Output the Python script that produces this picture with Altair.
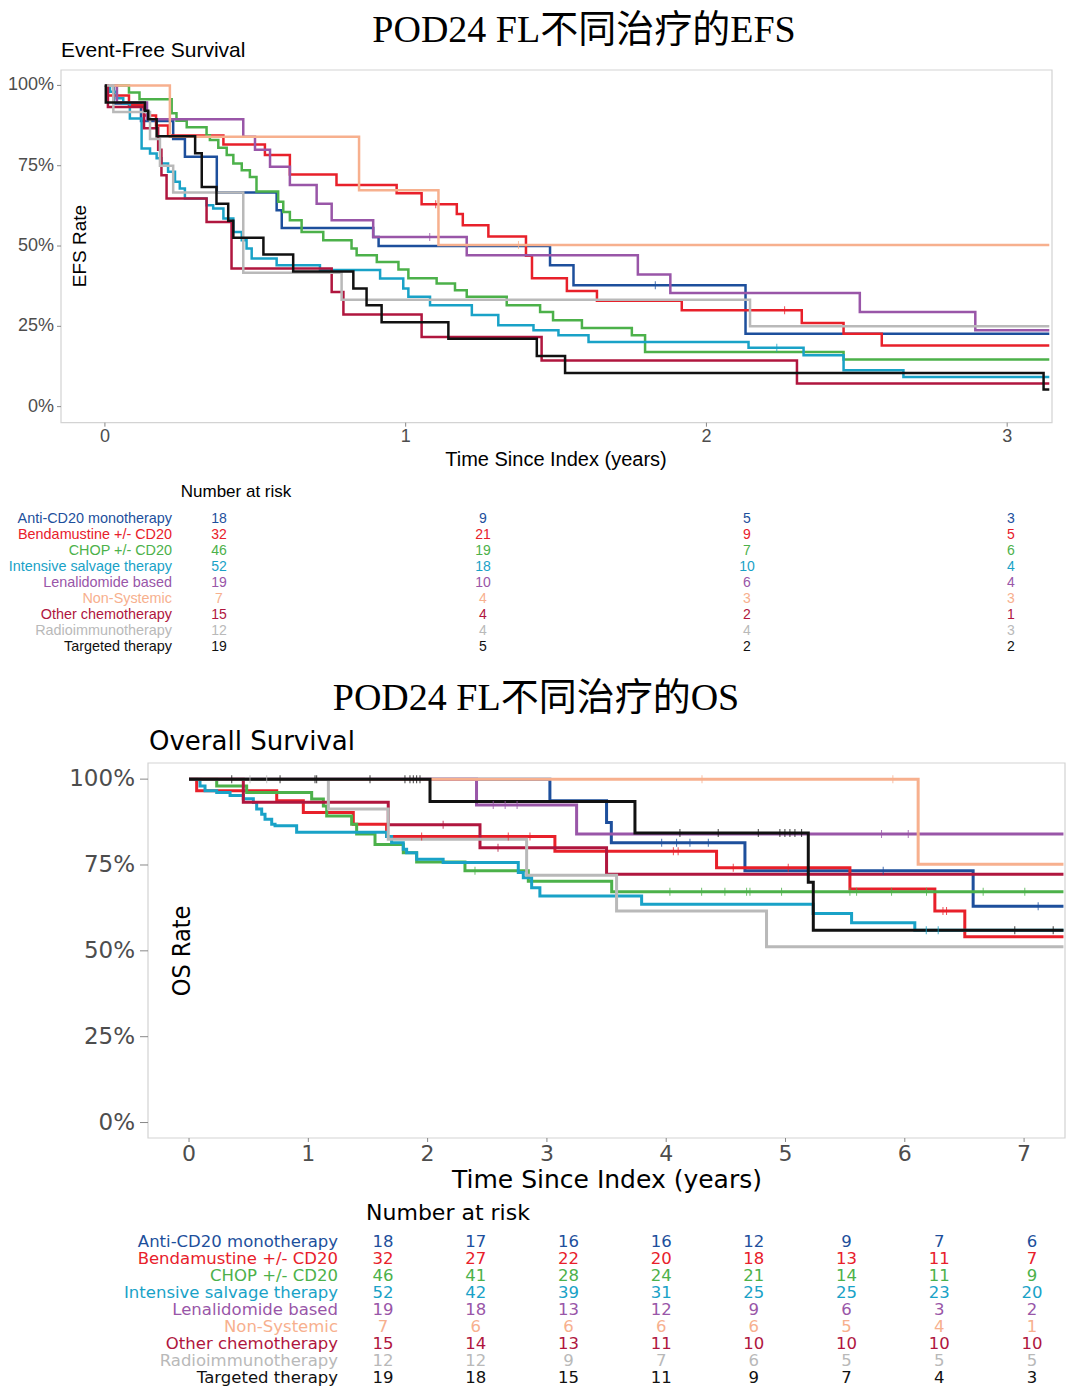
import altair as alt
import pandas as pd

groups = ["Anti-CD20 monotherapy", "Bendamustine +/- CD20", "CHOP +/- CD20",
          "Intensive salvage therapy", "Lenalidomide based", "Non-Systemic",
          "Other chemotherapy", "Radioimmunotherapy", "Targeted therapy"]
colors = ["#1d4f9c", "#e8202a", "#4cb14a", "#19a2c7", "#9956a8", "#f7b08e",
          "#b0163e", "#b9b9b9", "#111111"]

# ---------------- EFS curves (time in years, survival after each step) ----------------
efs_t_anti = [0, 0.03, 0.12, 0.227, 0.266, 0.372, 0.571, 0.588, 0.892, 0.91, 1.48, 1.558, 2.13, 3.14]
efs_s_anti = [1, 0.944, 0.889, 0.833, 0.778, 0.667, 0.611, 0.556, 0.528, 0.50, 0.44, 0.378, 0.227, 0.227]
efs_t_bend = [0, 0.01, 0.08, 0.13, 0.17, 0.21, 0.394, 0.532, 0.615, 0.77, 0.97, 1.053, 1.17, 1.19, 1.275,
              1.40, 1.42, 1.536, 1.636, 1.918, 2.317, 2.456, 2.583, 3.14]
efs_s_bend = [1, 0.969, 0.938, 0.906, 0.875, 0.844, 0.816, 0.783, 0.723, 0.69, 0.664, 0.63, 0.60, 0.565, 0.53,
              0.47, 0.40, 0.36, 0.33, 0.30, 0.26, 0.227, 0.19, 0.19]
efs_t_chop = [0, 0.08, 0.115, 0.222, 0.238, 0.272, 0.338, 0.349, 0.377, 0.405, 0.427, 0.455, 0.482, 0.504,
              0.576, 0.593, 0.615, 0.654, 0.726, 0.82, 0.837, 0.904, 0.976, 1.009, 1.103, 1.164, 1.203,
              1.336, 1.447, 1.49, 1.586, 1.752, 1.796, 2.456, 3.14]
efs_s_chop = [1, 0.978, 0.957, 0.913, 0.89, 0.87, 0.845, 0.83, 0.806, 0.783, 0.757, 0.736, 0.715, 0.67,
              0.638, 0.606, 0.58, 0.544, 0.518, 0.492, 0.471, 0.45, 0.427, 0.40, 0.383, 0.362, 0.342,
              0.316, 0.295, 0.269, 0.245, 0.222, 0.17, 0.147, 0.147]
efs_t_int = [0, 0.017, 0.039, 0.061, 0.083, 0.122, 0.15, 0.172, 0.188, 0.21, 0.233, 0.249, 0.266, 0.338,
             0.36, 0.394, 0.427, 0.455, 0.471, 0.488, 0.571, 0.715, 0.915, 0.992, 1.009, 1.081, 1.22,
             1.308, 1.425, 1.508, 1.608, 2.14, 2.323, 2.456, 2.655, 3.14]
efs_s_int = [1, 0.98, 0.96, 0.944, 0.897, 0.804, 0.788, 0.773, 0.757, 0.731, 0.70, 0.679, 0.648, 0.627,
             0.617, 0.586, 0.544, 0.518, 0.492, 0.461, 0.44, 0.425, 0.399, 0.368, 0.342, 0.316, 0.285,
             0.253, 0.238, 0.222, 0.201, 0.183, 0.16, 0.113, 0.092, 0.092]
efs_t_len = [0, 0.04, 0.14, 0.46, 0.499, 0.549, 0.615, 0.704, 0.754, 0.892, 1.203, 1.772, 1.88, 2.51, 2.894, 3.14]
efs_s_len = [1, 0.947, 0.895, 0.84, 0.80, 0.747, 0.69, 0.632, 0.58, 0.528, 0.471, 0.411, 0.354, 0.295, 0.238, 0.238]
efs_t_non = [0, 0.216, 0.845, 1.109, 3.14]
efs_s_non = [1, 0.84, 0.674, 0.503, 0.503]
efs_t_oth = [0, 0.01, 0.13, 0.177, 0.188, 0.205, 0.338, 0.421, 0.754, 0.793, 1.053, 1.452, 2.301, 3.14]
efs_s_oth = [1, 0.933, 0.867, 0.80, 0.72, 0.648, 0.575, 0.43, 0.357, 0.287, 0.217, 0.144, 0.072, 0.072]
efs_t_rad = [0, 0.028, 0.15, 0.183, 0.227, 0.46, 0.787, 2.145, 3.14]
efs_s_rad = [1, 0.917, 0.833, 0.75, 0.667, 0.417, 0.333, 0.25, 0.25]
efs_t_tar = [0, 0.003, 0.133, 0.144, 0.172, 0.30, 0.322, 0.371, 0.41, 0.427, 0.527, 0.626, 0.826, 0.87,
             0.92, 1.142, 1.436, 1.53, 3.121, 3.14]
efs_s_tar = [1, 0.947, 0.921, 0.895, 0.842, 0.789, 0.684, 0.632, 0.579, 0.526, 0.474, 0.421, 0.368, 0.316,
             0.263, 0.211, 0.158, 0.105, 0.053, 0.053]

# censoring marks (years)
efs_c_anti = [1.83]
efs_c_bend = [1.10, 2.26]
efs_c_chop = []
efs_c_int = [2.234]
efs_c_len = [1.08]
efs_c_non = [1.375]
efs_c_oth = []
efs_c_rad = []
efs_c_tar = []

# ---------------- OS curves ----------------
os_t_anti = [0, 3.025, 3.50, 3.54, 4.66, 6.573, 7.33]
os_s_anti = [1, 0.937, 0.874, 0.815, 0.733, 0.63, 0.63]
os_t_bend = [0, 0.064, 0.735, 0.958, 1.377, 1.656, 3.067, 4.422, 5.54, 6.252, 6.503, 7.33]
os_s_bend = [1, 0.966, 0.937, 0.903, 0.869, 0.833, 0.79, 0.742, 0.68, 0.616, 0.541, 0.541]
os_t_chop = [0, 0.232, 0.483, 1.028, 1.126, 1.154, 1.363, 1.405, 1.559, 1.796, 1.908, 2.313, 2.844, 3.543, 7.33]
os_s_chop = [1, 0.98, 0.961, 0.942, 0.922, 0.893, 0.869, 0.84, 0.81, 0.786, 0.759, 0.733, 0.703, 0.672, 0.672]
os_t_int = [0, 0.092, 0.134, 0.232, 0.344, 0.455, 0.539, 0.567, 0.609, 0.637, 0.693, 0.721, 0.902, 1.656,
            1.698, 1.796, 1.824, 1.908, 2.13, 2.76, 2.802, 2.872, 2.941, 3.794, 5.232, 5.554, 6.084, 7.33]
os_s_int = [1, 0.98, 0.966, 0.961, 0.952, 0.943, 0.932, 0.913, 0.898, 0.883, 0.869, 0.864, 0.845, 0.833,
            0.815, 0.796, 0.786, 0.767, 0.757, 0.728, 0.713, 0.684, 0.66, 0.636, 0.609, 0.582, 0.56, 0.56]
os_t_len = [0, 2.41, 3.249, 7.33]
os_s_len = [1, 0.925, 0.84, 0.84]
os_t_non = [0, 6.112, 7.33]
os_s_non = [1, 0.752, 0.752]
os_t_oth = [0, 0.455, 1.67, 2.439, 3.50, 7.33]
os_s_oth = [1, 0.933, 0.867, 0.80, 0.723, 0.723]
os_t_rad = [0, 1.168, 1.67, 2.83, 3.584, 4.841, 7.33]
os_s_rad = [1, 0.913, 0.825, 0.72, 0.616, 0.512, 0.512]
os_t_tar = [0, 2.02, 3.738, 5.191, 5.233, 7.33]
os_s_tar = [1, 0.935, 0.843, 0.70, 0.56, 0.56]

# censoring marks (years)
os_c_anti = [3.962, 4.087, 4.199, 4.353, 5.819, 7.118]
os_c_bend = [1.95, 2.676, 2.858, 4.06, 4.10, 4.562, 5.023, 6.32, 6.35]
os_c_chop = [2.397, 4.031, 4.297, 4.492, 4.674, 4.702, 4.967, 5.54, 5.596, 5.889, 6.182, 6.657, 7.006]
os_c_int = [6.18, 6.28]
os_c_len = [2.55, 2.65, 2.75, 5.805, 6.029]
os_c_non = [4.3, 5.9]
os_c_oth = [2.13, 2.59]
os_c_rad = [0.511, 0.651]
os_c_tar = [0.358, 0.763, 1.056, 1.07, 1.517, 1.81, 1.852, 1.88, 1.908, 1.936, 4.115, 4.436, 4.772,
            4.953, 4.995, 5.037, 5.079, 5.135, 6.922, 7.244]

# ---------------- numbers at risk ----------------
efs_risk_times = [0, 1, 2, 3]
efs_risk = [[18, 9, 5, 3], [32, 21, 9, 5], [46, 19, 7, 6], [52, 18, 10, 4], [19, 10, 6, 4],
            [7, 4, 3, 3], [15, 4, 2, 1], [12, 4, 4, 3], [19, 5, 2, 2]]
os_risk_times = [0, 1, 2, 3, 4, 5, 6, 7]
os_risk = [[18, 17, 16, 16, 12, 9, 7, 6], [32, 27, 22, 20, 18, 13, 11, 7], [46, 41, 28, 24, 21, 14, 11, 9],
           [52, 42, 39, 31, 25, 25, 23, 20], [19, 18, 13, 12, 9, 6, 3, 2], [7, 6, 6, 6, 6, 5, 4, 1],
           [15, 14, 13, 11, 10, 10, 10, 10], [12, 12, 9, 7, 6, 5, 5, 5], [19, 18, 15, 11, 9, 7, 4, 3]]

pct_ticks = [0, 0.25, 0.5, 0.75, 1.0]
pct_labels = ["0%", "25%", "50%", "75%", "100%"]
efs_year_ticks = [0, 1, 2, 3]
os_year_ticks = [0, 1, 2, 3, 4, 5, 6, 7]

efs_curves = [(efs_t_anti, efs_s_anti), (efs_t_bend, efs_s_bend), (efs_t_chop, efs_s_chop),
              (efs_t_int, efs_s_int), (efs_t_len, efs_s_len), (efs_t_non, efs_s_non),
              (efs_t_oth, efs_s_oth), (efs_t_rad, efs_s_rad), (efs_t_tar, efs_s_tar)]
efs_cens = [efs_c_anti, efs_c_bend, efs_c_chop, efs_c_int, efs_c_len, efs_c_non, efs_c_oth, efs_c_rad, efs_c_tar]
os_curves = [(os_t_anti, os_s_anti), (os_t_bend, os_s_bend), (os_t_chop, os_s_chop),
             (os_t_int, os_s_int), (os_t_len, os_s_len), (os_t_non, os_s_non),
             (os_t_oth, os_s_oth), (os_t_rad, os_s_rad), (os_t_tar, os_s_tar)]
os_cens = [os_c_anti, os_c_bend, os_c_chop, os_c_int, os_c_len, os_c_non, os_c_oth, os_c_rad, os_c_tar]


def curves_df(curves):
    rows = []
    for g, (ts, ss) in zip(groups, curves):
        for t, s in zip(ts, ss):
            rows.append({"group": g, "t": t, "s": s})
    return pd.DataFrame(rows)


def step_value(ts, ss, x):
    v = ss[0]
    for t, s in zip(ts, ss):
        if t <= x:
            v = s
    return v


def cens_df(curves, cens):
    rows = []
    for g, (ts, ss), cs in zip(groups, curves, cens):
        for c in cs:
            rows.append({"group": g, "t": c, "s": step_value(ts, ss, c)})
    return pd.DataFrame(rows, columns=["group", "t", "s"])


def risk_df(times, table):
    rows = []
    for g, ns in zip(groups, table):
        for t, n in zip(times, ns):
            rows.append({"group": g, "t": t, "n": n})
    return pd.DataFrame(rows)


COLOR = alt.Scale(domain=groups, range=colors)
SANS = "Liberation Sans"
WIDE = "DejaVu Sans"
TITLE_FONT = "Liberation Serif, Noto Sans CJK SC"
GRAY = "#4d4d4d"
FRAME = "#d3d3d3"


def label(text, x, y, size, font, align="center", baseline="alphabetic", angle=0, color="black"):
    return alt.Chart(pd.DataFrame({"label": [text]})).mark_text(
        align=align, baseline=baseline, angle=angle, fontSize=size, font=font, color=color
    ).encode(x=alt.value(x), y=alt.value(y), text="label:N")


def km_panel(curves, cens, xdom, xrng, ydom, yrng, year_ticks, lw, ytick_x, ylab_x, ylab_font, ylab_size,
             xlab_y, xlab_font, xlab_size):
    XS = alt.Scale(domain=xdom, range=xrng, nice=False, zero=False)
    YS = alt.Scale(domain=ydom, range=yrng, nice=False, zero=False)
    frame = alt.Chart(pd.DataFrame({"x0": [xdom[0]], "x1": [xdom[1]], "y0": [ydom[0]], "y1": [ydom[1]]})).mark_rect(
        fill="white", stroke=FRAME, strokeWidth=1.2
    ).encode(x=alt.X("x0:Q", scale=XS, axis=None), x2="x1:Q",
             y=alt.Y("y0:Q", scale=YS, axis=None), y2="y1:Q")
    pdf = pd.DataFrame({"v": pct_ticks, "lab": pct_labels})
    ydf = pd.DataFrame({"v": year_ticks, "lab": [str(v) for v in year_ticks]})
    yticks = alt.Chart(pdf).mark_rule(color="#888888", strokeWidth=1).encode(
        y=alt.Y("v:Q", scale=YS, axis=None), x=alt.value(ytick_x[0]), x2=alt.value(ytick_x[1]))
    ylabels = alt.Chart(pdf).mark_text(align="right", baseline="middle", font=ylab_font,
                                       fontSize=ylab_size, color=GRAY).encode(
        y=alt.Y("v:Q", scale=YS, axis=None), x=alt.value(ylab_x), text="lab:N")
    bottom = yrng[0]
    xticks = alt.Chart(ydf).mark_rule(color="#888888", strokeWidth=1).encode(
        x=alt.X("v:Q", scale=XS, axis=None), y=alt.value(bottom), y2=alt.value(bottom + 4))
    xlabels = alt.Chart(ydf).mark_text(baseline="middle", font=xlab_font, fontSize=xlab_size,
                                       color=GRAY).encode(
        x=alt.X("v:Q", scale=XS, axis=None), y=alt.value(xlab_y), text="lab:N")
    lines = alt.Chart(curves_df(curves)).mark_line(interpolate="step-after", strokeWidth=lw).encode(
        x=alt.X("t:Q", scale=XS, axis=None), y=alt.Y("s:Q", scale=YS, axis=None),
        color=alt.Color("group:N", scale=COLOR, legend=None),
        order=alt.Order("t:Q"))
    marks = alt.Chart(cens_df(curves, cens)).mark_tick(orient="vertical", size=8, thickness=1, opacity=0.8).encode(
        x=alt.X("t:Q", scale=XS, axis=None), y=alt.Y("s:Q", scale=YS, axis=None),
        color=alt.Color("group:N", scale=COLOR, legend=None))
    return alt.layer(frame, yticks, ylabels, xticks, xlabels, lines, marks)


def risk_table(times, table, xrng, yrng, label_x, font, lab_size, num_size):
    XS = alt.Scale(domain=[times[0], times[-1]], range=xrng, nice=False, zero=False)
    YS = alt.Scale(type="point", domain=groups, range=yrng, padding=0)
    nums = alt.Chart(risk_df(times, table)).mark_text(baseline="middle", font=font, fontSize=num_size).encode(
        x=alt.X("t:Q", scale=XS, axis=None), y=alt.Y("group:N", scale=YS, axis=None),
        text="n:Q", color=alt.Color("group:N", scale=COLOR, legend=None))
    labs = alt.Chart(pd.DataFrame({"group": groups})).mark_text(
        align="right", baseline="middle", font=font, fontSize=lab_size).encode(
        x=alt.value(label_x), y=alt.Y("group:N", scale=YS, axis=None),
        text="group:N", color=alt.Color("group:N", scale=COLOR, legend=None))
    return alt.layer(labs, nums)


efs = km_panel(efs_curves, efs_cens, [-0.146, 3.149], [53, 1044], [-0.050, 1.048], [414.7, 62],
               efs_year_ticks, 2.5, (49, 53), 46, SANS, 18, 429, SANS, 18)
os_ = km_panel(os_curves, os_cens, [-0.344, 7.343], [140, 1057], [-0.045, 1.047], [1130, 755],
               os_year_ticks, 3, (132, 140), 127, WIDE, 23, 1146, WIDE, 22)
efs_tab = risk_table(efs_risk_times, efs_risk, [211, 1003], [511, 639], 164, SANS, 14.4, 14)
os_tab = risk_table(os_risk_times, os_risk, [375, 1024], [1234, 1370], 330, WIDE, 16.5, 16.5)

texts = [
    label("POD24 FL不同治疗的EFS", 576, 34, 38, TITLE_FONT),
    label("Event-Free Survival", 53, 49, 21, SANS, align="left"),
    label("EFS Rate", 72, 238, 19, SANS, baseline="middle", angle=270),
    label("Time Since Index (years)", 548, 452, 20, SANS, baseline="middle"),
    label("Number at risk", 228, 484, 17, SANS, baseline="middle"),
    label("POD24 FL不同治疗的OS", 528, 702, 38, TITLE_FONT),
    label("Overall Survival", 141, 742, 26, WIDE, align="left"),
    label("OS Rate", 174, 943, 25, "Liberation Sans Narrow, DejaVu Sans Condensed, Liberation Sans",
          baseline="middle", angle=270),
    label("Time Since Index (years)", 599, 1172, 25, WIDE, baseline="middle"),
    label("Number at risk", 440, 1205, 22, WIDE, baseline="middle"),
]

chart = alt.layer(efs, efs_tab, os_, os_tab, *texts).resolve_scale(
    x="independent", y="independent"
).properties(
    width=1064, height=1378, padding=0, background="white",
    autosize=alt.AutoSizeParams(type="none")
).configure_view(stroke=None, strokeWidth=0)

chart.save("out.html", embed_options={"renderer": "svg", "actions": False})
